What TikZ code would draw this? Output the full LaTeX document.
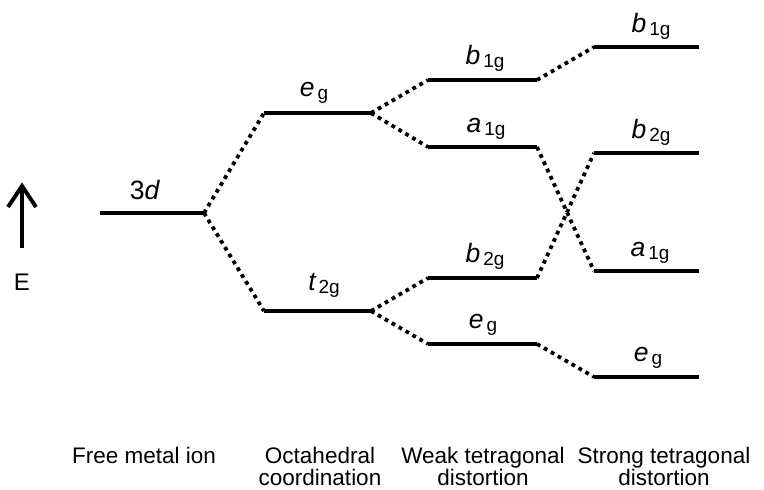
\documentclass[tikz,border=0pt]{standalone}
\usepackage{fontspec}
\setmainfont{Liberation Sans}
\newcommand{\mylvl}[2]{{\itshape #1}\hspace{3pt}\raisebox{-3pt}{\fontsize{19}{19}\selectfont #2}}
\begin{document}
\begin{tikzpicture}[x=1pt,y=-1pt,
  level/.style={line width=3.8pt,line cap=butt},
  conn/.style={line width=3.8pt,dash pattern=on 3.8pt off 4.2pt},
  lab/.style={anchor=base,inner sep=0pt,font=\fontsize{26.5}{26.5}\selectfont},
  captext/.style={anchor=north,inner sep=0pt,align=center,font=\fontsize{22.5}{22}\selectfont}]
\useasboundingbox (0,0) rectangle (764,490);
% energy arrow
\coordinate (aB) at (22,248);
\coordinate (aT) at (22,186);
\coordinate (aW1) at (8,207);
\coordinate (aW2) at (36,207);
\draw[line width=4pt] (aB) -- (aT);
\draw[line width=4pt,line join=miter] (aW1) -- (aT) -- (aW2);
\node[anchor=base,inner sep=0pt,font=\fontsize{24}{24}\selectfont] (E) at (22,290) {E};
% levels: free ion
\coordinate (dL) at (100,213); \coordinate (dR) at (204,213);
% octahedral
\coordinate (oeL) at (264,113); \coordinate (oeR) at (371,113);
\coordinate (otL) at (264,311); \coordinate (otR) at (371,311);
% weak
\coordinate (wbL) at (428,80);  \coordinate (wbR) at (537,80);
\coordinate (waL) at (428,147); \coordinate (waR) at (537,147);
\coordinate (wcL) at (428,278); \coordinate (wcR) at (537,278);
\coordinate (weL) at (428,344); \coordinate (weR) at (537,344);
% strong
\coordinate (sbL) at (594,47);  \coordinate (sbR) at (699,47);
\coordinate (scL) at (594,153); \coordinate (scR) at (699,153);
\coordinate (saL) at (594,271); \coordinate (saR) at (699,271);
\coordinate (seL) at (594,377); \coordinate (seR) at (699,377);
\foreach \a/\b in {dL/dR,oeL/oeR,otL/otR,wbL/wbR,waL/waR,wcL/wcR,weL/weR,sbL/sbR,scL/scR,saL/saR,seL/seR}
  \draw[level] (\a) -- (\b);
% connectors
\foreach \a/\b in {dR/oeL,dR/otL,oeR/wbL,oeR/waL,otR/wcL,otR/weL,wbR/sbL,waR/saL,wcR/scL,weR/seL}
  \draw[conn] (\a) -- (\b);
% level labels
\node[lab] (l3d) at (145,199) {3\textit{d}};
\node[lab] (loe) at (314,96) {\mylvl{e}{g}};
\node[lab] (lot) at (324,290) {\mylvl{t}{2g}};
\node[lab] (lwb) at (485,64) {\mylvl{b}{1g}};
\node[lab] (lwa) at (486,132) {\mylvl{a}{1g}};
\node[lab] (lwc) at (485,262) {\mylvl{b}{2g}};
\node[lab] (lwe) at (483,328) {\mylvl{e}{g}};
\node[lab] (lsb) at (651,32) {\mylvl{b}{1g}};
\node[lab] (lsc) at (651,138) {\mylvl{b}{2g}};
\node[lab] (lsa) at (650,256) {\mylvl{a}{1g}};
\node[lab] (lse) at (648,361) {\mylvl{e}{g}};
% captions
\node[captext] (c1) at (144,447) {Free metal ion};
\node[captext] (c2) at (320,447) {Octahedral\\coordination};
\node[captext] (c3) at (483,447) {Weak tetragonal\\distortion};
\node[captext] (c4) at (664,447) {Strong tetragonal\\distortion};
\end{tikzpicture}
\end{document}
